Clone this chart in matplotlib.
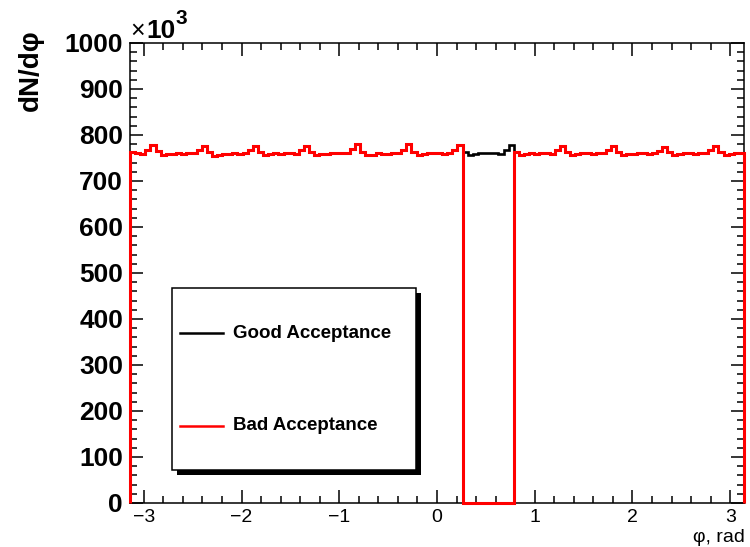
import numpy as np
import matplotlib
matplotlib.use('Agg')
import matplotlib.pyplot as plt
from matplotlib.patches import Rectangle
from matplotlib.lines import Line2D
from matplotlib.ticker import MultipleLocator

plt.rcParams['font.family'] = ['Liberation Sans', 'DejaVu Sans']

# phi histogram, 120 bins from -pi to pi, counts in units of 10^3
phi_min, phi_max = -np.pi, np.pi
n_bins = 120
cut_lo, cut_hi = np.pi / 12, np.pi / 4   # dead sector in the "bad" case

good_counts = [
    764, 760, 759, 768, 778, 765, 756, 758, 759, 760,
    759, 761, 760, 768, 776, 763, 755, 757, 759, 758,
    760, 759, 761, 767, 777, 762, 756, 758, 760, 759,
    761, 760, 759, 768, 776, 764, 757, 758, 759, 761,
    760, 761, 760, 769, 781, 763, 756, 757, 760, 759,
    758, 760, 761, 768, 780, 764, 757, 759, 760, 761,
    760, 759, 761, 768, 779, 762, 757, 758, 760, 760,
    761, 760, 758, 768, 779, 764, 756, 758, 760, 759,
    760, 761, 759, 767, 777, 763, 757, 759, 760, 761,
    759, 760, 761, 767, 776, 762, 756, 758, 759, 760,
    760, 759, 760, 766, 775, 763, 757, 758, 760, 761,
    759, 760, 761, 768, 777, 764, 756, 758, 760, 761,
]
legend_labels = ['Good Acceptance', 'Bad Acceptance']
series_colors = ['black', 'red']

edges = np.linspace(phi_min, phi_max, n_bins + 1)
centers = 0.5 * (edges[:-1] + edges[1:])
good = np.array(good_counts, dtype=float)
bad = np.where((centers > cut_lo) & (centers < cut_hi), 0.0, good)

W, H = 750, 547
fig = plt.figure(figsize=(W / 100, H / 100), dpi=100)
ax = fig.add_axes([130 / W, 1 - 503 / H, 614 / W, 460 / H])

ax.stairs(good, edges, color=series_colors[0], lw=1.9, baseline=0, zorder=3, clip_on=False)
ax.stairs(bad, edges, color=series_colors[1], lw=2.2, baseline=0, zorder=4, clip_on=False)

ax.set_xlim(phi_min, phi_max)
ax.set_ylim(0, 1000)
ax.xaxis.set_major_locator(MultipleLocator(1))
ax.xaxis.set_minor_locator(MultipleLocator(0.2))
ax.yaxis.set_major_locator(MultipleLocator(100))
ax.yaxis.set_minor_locator(MultipleLocator(20))
ax.tick_params(which='both', direction='in', top=True, right=True, width=1.1)
ax.tick_params(which='major', length=9.5)
ax.tick_params(which='minor', length=5)
ax.tick_params(axis='x', labelsize=14, pad=4)
ax.tick_params(axis='y', labelsize=19, pad=5)
for lbl in ax.get_yticklabels():
    lbl.set_fontweight('bold')
for s in ax.spines.values():
    s.set_linewidth(1.1)

# axis titles, ROOT style
fig.text(31 / W, 1 - 29 / H, 'dN/d\u03c6', rotation=90, ha='center', va='top',
         fontsize=20, fontweight='bold')
fig.text(745 / W, 1 - 537 / H, '\u03c6, rad', ha='right', va='center', fontsize=14)
fig.text(130 / W, 1 - 31 / H, '\u00d7', ha='left', va='center', fontsize=18)
fig.text(146 / W, 1 - 38 / H, '10', ha='left', va='baseline', fontsize=19, fontweight='bold')
fig.text(175 / W, 1 - 24 / H, '3', ha='left', va='baseline', fontsize=15, fontweight='bold')

# legend box with shadow
def ax_xy(px, py):
    return (px - 130) / 614, (503 - py) / 460

bx0, by0 = ax_xy(172, 470)
bx1, by1 = ax_xy(416, 288)
sdx, sdy = 5 / 614, 5 / 460
ax.add_patch(Rectangle((bx0 + sdx, by0 - sdy), bx1 - bx0, by1 - by0, transform=ax.transAxes,
                       facecolor='black', edgecolor='black', lw=0, zorder=5))
ax.add_patch(Rectangle((bx0, by0), bx1 - bx0, by1 - by0, transform=ax.transAxes,
                       facecolor='white', edgecolor='black', lw=1.1, zorder=6))
entry_y = [333, 426]
for lab, col, py in zip(legend_labels, series_colors, entry_y):
    lx0, ly = ax_xy(180, py)
    lx1, _ = ax_xy(223, py)
    tx, _ = ax_xy(233, py)
    ax.add_line(Line2D([lx0, lx1], [ly, ly], color=col, lw=1.8, transform=ax.transAxes, zorder=7))
    ax.text(tx, ly, lab, transform=ax.transAxes, ha='left', va='center',
            fontsize=13.5, fontweight='bold', zorder=7)

fig.savefig('out.png', dpi=100)
